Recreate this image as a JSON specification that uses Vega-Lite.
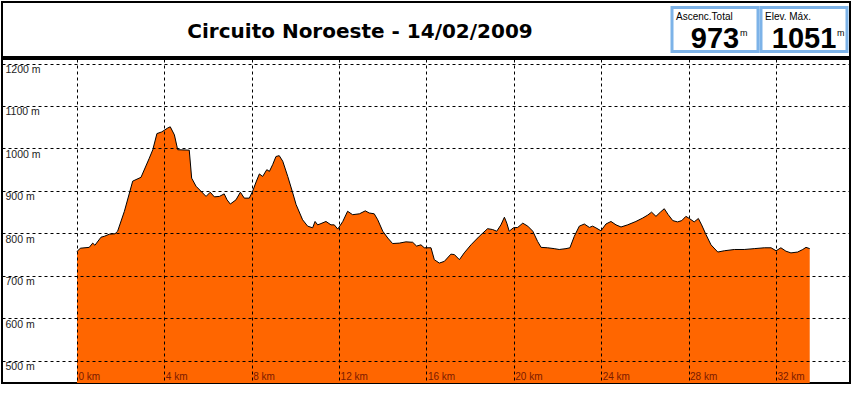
{
  "$schema": "https://vega.github.io/schema/vega-lite/v6.json",
  "background": "white",
  "padding": {"left": 1, "top": 1, "right": 2, "bottom": 1},
  "spacing": 0,
  "config": {
    "view": {"stroke": "black", "strokeWidth": 2},
    "font": "Liberation Sans"
  },
  "datasets": {
    "stats": [
      {"label": "Ascenc.Total", "value": "973"},
      {"label": "Elev. Máx.", "value": "1051"}
    ],
    "profile": [
      {"km": 0, "elev": 757}, {"km": 0.15, "elev": 765}, {"km": 0.56, "elev": 767}, {"km": 0.72, "elev": 777},
      {"km": 0.82, "elev": 772}, {"km": 1.10, "elev": 791}, {"km": 1.25, "elev": 793}, {"km": 1.48, "elev": 798},
      {"km": 1.74, "elev": 799}, {"km": 1.86, "elev": 805}, {"km": 2.17, "elev": 852}, {"km": 2.55, "elev": 923},
      {"km": 2.93, "elev": 932}, {"km": 3.31, "elev": 977}, {"km": 3.47, "elev": 997}, {"km": 3.66, "elev": 1035},
      {"km": 3.88, "elev": 1039}, {"km": 4.15, "elev": 1048}, {"km": 4.27, "elev": 1051}, {"km": 4.46, "elev": 1032},
      {"km": 4.61, "elev": 997}, {"km": 5.14, "elev": 996}, {"km": 5.25, "elev": 930}, {"km": 5.45, "elev": 911},
      {"km": 5.68, "elev": 899}, {"km": 5.91, "elev": 887}, {"km": 6.10, "elev": 897}, {"km": 6.29, "elev": 886},
      {"km": 6.52, "elev": 887}, {"km": 6.74, "elev": 893}, {"km": 6.87, "elev": 879}, {"km": 7.02, "elev": 869},
      {"km": 7.28, "elev": 879}, {"km": 7.48, "elev": 897}, {"km": 7.66, "elev": 883}, {"km": 7.89, "elev": 883},
      {"km": 8.04, "elev": 899}, {"km": 8.20, "elev": 921}, {"km": 8.35, "elev": 940}, {"km": 8.50, "elev": 934},
      {"km": 8.69, "elev": 950}, {"km": 8.81, "elev": 946}, {"km": 8.96, "elev": 962}, {"km": 9.11, "elev": 981},
      {"km": 9.26, "elev": 983}, {"km": 9.42, "elev": 970}, {"km": 9.65, "elev": 934}, {"km": 9.88, "elev": 895},
      {"km": 10.03, "elev": 868}, {"km": 10.33, "elev": 832}, {"km": 10.56, "elev": 817}, {"km": 10.79, "elev": 813},
      {"km": 10.90, "elev": 828}, {"km": 11.02, "elev": 820}, {"km": 11.17, "elev": 823}, {"km": 11.40, "elev": 828},
      {"km": 11.63, "elev": 820}, {"km": 11.78, "elev": 820}, {"km": 11.94, "elev": 810}, {"km": 12.17, "elev": 828},
      {"km": 12.39, "elev": 852}, {"km": 12.62, "elev": 844}, {"km": 12.93, "elev": 846}, {"km": 13.20, "elev": 853},
      {"km": 13.38, "elev": 848}, {"km": 13.61, "elev": 846}, {"km": 13.77, "elev": 832}, {"km": 14.00, "elev": 805},
      {"km": 14.23, "elev": 789}, {"km": 14.45, "elev": 776}, {"km": 14.76, "elev": 777}, {"km": 15.06, "elev": 780},
      {"km": 15.37, "elev": 779}, {"km": 15.55, "elev": 770}, {"km": 15.75, "elev": 773}, {"km": 15.90, "elev": 766},
      {"km": 16.21, "elev": 766}, {"km": 16.36, "elev": 738}, {"km": 16.59, "elev": 730}, {"km": 16.82, "elev": 734},
      {"km": 17.12, "elev": 751}, {"km": 17.28, "elev": 750}, {"km": 17.51, "elev": 738}, {"km": 17.73, "elev": 754},
      {"km": 18.04, "elev": 773}, {"km": 18.42, "elev": 793}, {"km": 18.80, "elev": 811}, {"km": 19.03, "elev": 809},
      {"km": 19.22, "elev": 805}, {"km": 19.41, "elev": 820}, {"km": 19.57, "elev": 838}, {"km": 19.68, "elev": 824},
      {"km": 19.79, "elev": 805}, {"km": 19.98, "elev": 813}, {"km": 20.18, "elev": 814}, {"km": 20.41, "elev": 824},
      {"km": 20.64, "elev": 817}, {"km": 20.87, "elev": 805}, {"km": 21.09, "elev": 781}, {"km": 21.25, "elev": 767},
      {"km": 21.55, "elev": 766}, {"km": 21.85, "elev": 764}, {"km": 22.08, "elev": 762}, {"km": 22.39, "elev": 764},
      {"km": 22.57, "elev": 766}, {"km": 22.77, "elev": 793}, {"km": 23.00, "elev": 817}, {"km": 23.23, "elev": 822},
      {"km": 23.46, "elev": 814}, {"km": 23.61, "elev": 817}, {"km": 23.76, "elev": 813}, {"km": 23.99, "elev": 806},
      {"km": 24.22, "elev": 822}, {"km": 24.45, "elev": 828}, {"km": 24.68, "elev": 820}, {"km": 24.91, "elev": 815},
      {"km": 25.21, "elev": 820}, {"km": 25.59, "elev": 828}, {"km": 25.90, "elev": 836}, {"km": 26.13, "elev": 843},
      {"km": 26.31, "elev": 850}, {"km": 26.51, "elev": 840}, {"km": 26.71, "elev": 850}, {"km": 26.89, "elev": 858},
      {"km": 27.07, "elev": 844}, {"km": 27.28, "elev": 830}, {"km": 27.50, "elev": 827}, {"km": 27.69, "elev": 830},
      {"km": 27.88, "elev": 840}, {"km": 28.04, "elev": 835}, {"km": 28.26, "elev": 827}, {"km": 28.45, "elev": 835},
      {"km": 28.60, "elev": 820}, {"km": 28.80, "elev": 797}, {"km": 29.03, "elev": 773}, {"km": 29.34, "elev": 756},
      {"km": 29.64, "elev": 759}, {"km": 30.10, "elev": 762}, {"km": 30.55, "elev": 762}, {"km": 31.01, "elev": 764},
      {"km": 31.47, "elev": 766}, {"km": 31.78, "elev": 766}, {"km": 32.01, "elev": 759}, {"km": 32.23, "elev": 766},
      {"km": 32.46, "elev": 758}, {"km": 32.69, "elev": 754}, {"km": 33.00, "elev": 756}, {"km": 33.23, "elev": 762},
      {"km": 33.38, "elev": 767}, {"km": 33.55, "elev": 764}
    ]
  },
  "vconcat": [
    {
      "width": 848,
      "height": 55,
      "layer": [
        {
          "data": {"values": [{"title": "Circuito Noroeste - 14/02/2009"}]},
          "mark": {"type": "text", "font": "DejaVu Sans", "fontWeight": "bold", "fontSize": 20, "color": "black", "align": "center", "baseline": "alphabetic", "dx": -66, "dy": 8},
          "encoding": {"text": {"field": "title"}}
        },
        {
          "data": {"name": "stats"},
          "mark": {"type": "rect", "fill": "white", "stroke": "#7DB3E8", "strokeWidth": 3},
          "encoding": {
            "x": {"field": "label", "type": "nominal", "sort": null, "axis": null, "scale": {"paddingInner": 0.0337, "paddingOuter": 0, "rangeMin": 670, "rangeMax": 845}},
            "y": {"datum": "box", "type": "nominal", "axis": null, "scale": {"paddingInner": 0, "paddingOuter": 0.125}}
          }
        },
        {
          "data": {"name": "stats"},
          "mark": {"type": "text", "font": "Liberation Sans", "fontSize": 10, "color": "black", "align": "left", "baseline": "middle", "dx": 4, "dy": -13},
          "encoding": {
            "x": {"field": "label", "type": "nominal", "sort": null, "bandPosition": 0},
            "y": {"datum": "box", "type": "nominal"},
            "text": {"field": "label"}
          }
        },
        {
          "data": {"name": "stats"},
          "mark": {"type": "text", "font": "Liberation Sans", "fontWeight": "bold", "fontSize": 29, "color": "black", "align": "center", "baseline": "alphabetic", "dy": 18},
          "encoding": {
            "x": {"field": "label", "type": "nominal", "sort": null},
            "y": {"datum": "box", "type": "nominal"},
            "text": {"field": "value"}
          }
        },
        {
          "data": {"name": "stats"},
          "transform": [{"filter": "datum.label == 'Ascenc.Total'"}],
          "mark": {"type": "text", "font": "Liberation Sans", "fontSize": 9, "color": "black", "align": "left", "baseline": "alphabetic", "dx": 25, "dy": 6},
          "encoding": {
            "x": {"field": "label", "type": "nominal", "sort": null},
            "y": {"datum": "box", "type": "nominal"},
            "text": {"value": "m"}
          }
        },
        {
          "data": {"name": "stats"},
          "transform": [{"filter": "datum.label == 'Elev. Máx.'"}],
          "mark": {"type": "text", "font": "Liberation Sans", "fontSize": 9, "color": "black", "align": "left", "baseline": "alphabetic", "dx": 33, "dy": 6},
          "encoding": {
            "x": {"field": "label", "type": "nominal", "sort": null},
            "y": {"datum": "box", "type": "nominal"},
            "text": {"value": "m"}
          }
        }
      ]
    },
    {
      "width": 848,
      "height": 324,
      "data": {"name": "profile"},
      "mark": {"type": "area", "color": "#FF6600", "opacity": 1, "fillOpacity": 1, "clip": true, "line": {"color": "black", "strokeWidth": 1}},
      "encoding": {
        "x": {
          "field": "km", "type": "quantitative",
          "scale": {"domain": [-3.434, 35.394], "nice": false, "zero": false},
          "axis": {
            "title": null, "values": [0, 4, 8, 12, 16, 20, 24, 28, 32],
            "grid": true, "gridColor": "black", "gridDash": [3, 3], "gridWidth": 1, "gridOpacity": 1,
            "domain": false, "ticks": false, "tickSize": 0,
            "labelExpr": "datum.value + ' km'", "labelAlign": "left", "labelBaseline": "bottom",
            "labelPadding": -2, "labelOffset": 1, "labelFont": "Liberation Sans", "labelFontSize": 10,
            "labelColor": "#7A1A00", "labelFlush": false, "labelOverlap": false, "zindex": 1
          }
        },
        "y": {
          "field": "elev", "type": "quantitative",
          "scale": {"domain": [447.5, 1210.7], "nice": false, "zero": false},
          "axis": {
            "title": null, "values": [500, 600, 700, 800, 900, 1000, 1100, 1200],
            "grid": true, "gridColor": "black", "gridDash": [3, 3], "gridWidth": 1, "gridOpacity": 1,
            "domain": false, "ticks": false, "tickSize": 0,
            "labelExpr": "datum.value + ' m'", "labelAlign": "left", "labelBaseline": "top",
            "labelPadding": -3, "labelOffset": 1, "labelFont": "Liberation Sans", "labelFontSize": 10.5,
            "labelColor": "#222222", "labelFlush": false, "labelOverlap": false, "zindex": 1
          }
        }
      }
    },
    {
      "width": 848,
      "height": 18,
      "data": {"values": [{}]},
      "mark": {"type": "rect", "opacity": 0},
      "encoding": {}
    }
  ]
}
